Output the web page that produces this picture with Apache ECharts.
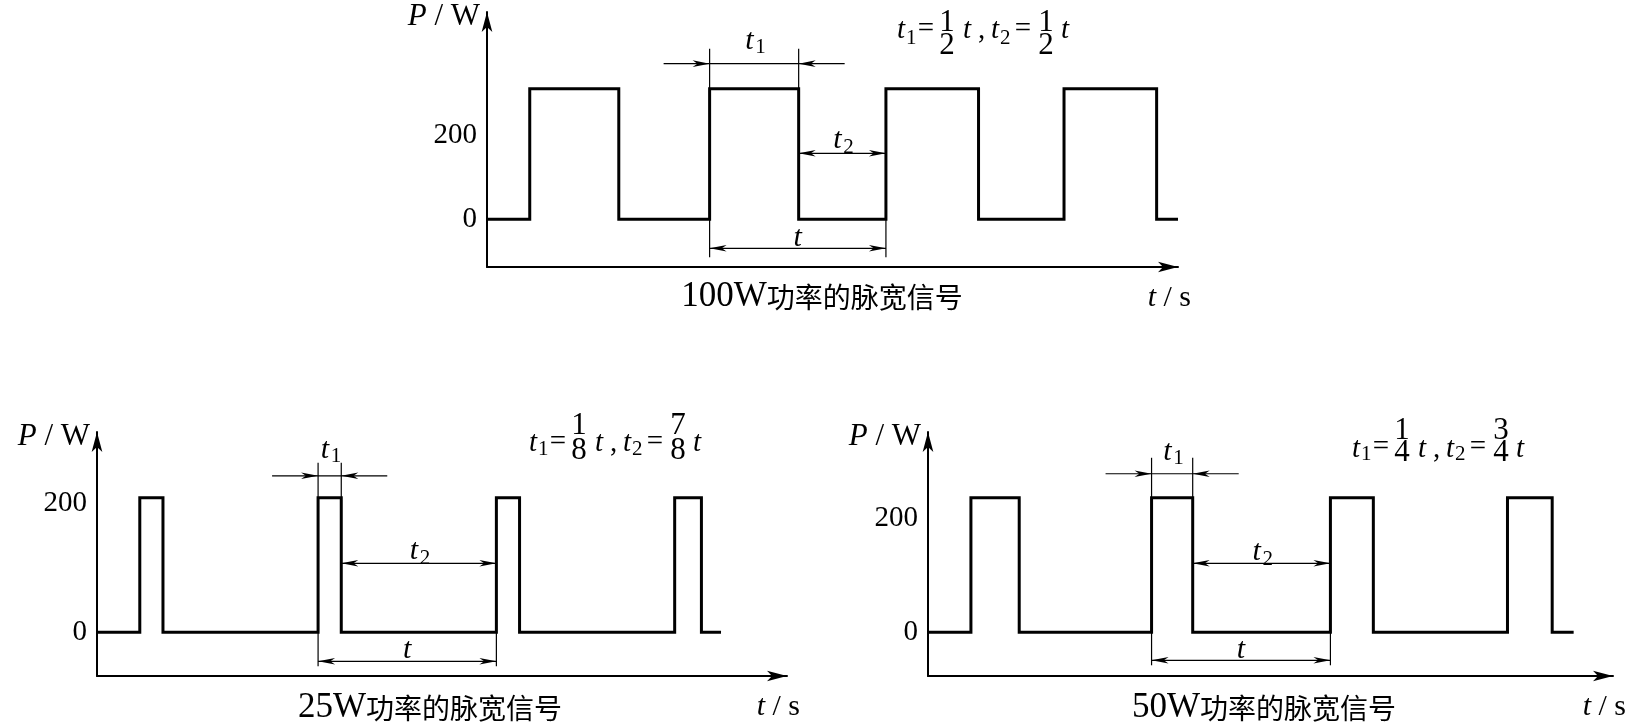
<!DOCTYPE html>
<html><head><meta charset="utf-8">
<script src="https://cdn.jsdelivr.net/npm/echarts@6/dist/echarts.min.js"></script>
<style>html,body{margin:0;padding:0;background:#fff}#c{width:1629px;height:726px}</style>
</head><body><div id="c"></div>
<script>
// ---------- data (time measured in periods t, power in W) ----------
const captionPower = ['100W', '25W', '50W'];
const captionSuffix = '功率的脉宽信号';
const yTickValues = [0, 200];

const rises100 = [0.24, 1.25, 2.24, 3.24];
const falls100 = [0.74, 1.75, 2.76, 3.76];
const high100 = 310;
const end100 = 3.88;

const rises25 = [0.24, 1.24, 2.24, 3.24];
const falls25 = [0.37, 1.37, 2.37, 3.39];
const high25 = 208;
const end25 = 3.50;

const rises50 = [0.24, 1.25, 2.25, 3.24];
const falls50 = [0.51, 1.48, 2.49, 3.49];
const high50 = 236;
const end50 = 3.61;

const frac100 = [['1', '2'], ['1', '2']];
const frac25 = [['1', '8'], ['7', '8']];
const frac50 = [['1', '4'], ['3', '4']];

// ---------- layout ----------
const panels = [
  {rises: rises100, falls: falls100, high: high100, end: end100, frac: frac100, cap: captionPower[0],
   grid: {left: 487, top: 12, width: 691, height: 255}, xMax: 3.88, yMin: -113.2, yMax: 491.8,
   dim: {t1Off: 25, extTop: 40, tOff: 29, extBot: 38, t2Off: 66, t1Lab: 23, t2Lab: 13, tLab: 10},
   formula: {x: 897, ym: 30.5, sub: 38.5, eq: 29, num: 23, den: 46},
   caption: {x: 822, y: 297}},
  {rises: rises25, falls: falls25, high: high25, end: end25, frac: frac25, cap: captionPower[1],
   grid: {left: 97, top: 432, width: 690, height: 244}, xMax: 3.87, yMin: -67.6, yMax: 309.8,
   dim: {t1Off: 22, extTop: 35, tOff: 29, extBot: 34, t2Off: 69, t1Lab: 26, t2Lab: 12, tLab: 11},
   formula: {x: 529, ym: 443.5, sub: 449, eq: 442.5, num: 426, den: 451},
   caption: {x: 430, y: 708}},
  {rises: rises50, falls: falls50, high: high50, end: end50, frac: frac50, cap: captionPower[2],
   grid: {left: 928, top: 432, width: 685, height: 244}, xMax: 3.83, yMin: -76.7, yMax: 351.4,
   dim: {t1Off: 24, extTop: 40, tOff: 28, extBot: 33, t2Off: 69, t1Lab: 22, t2Lab: 11, tLab: 10},
   formula: {x: 1352, ym: 449, sub: 454, eq: 447, num: 431, den: 453},
   caption: {x: 1264, y: 708}}
];

const SERIF = '"Liberation Serif", "Times New Roman", serif';
const CJK = '"Noto Sans CJK SC", sans-serif';

function buildSignal(p) {
  const pts = [[0, 0]];
  for (let i = 0; i < p.rises.length; i++) {
    pts.push([p.rises[i], p.high]);
    pts.push([p.falls[i], 0]);
  }
  pts.push([p.end, 0]);
  return pts;
}

function txt(x, y, text, font, align) {
  return {type: 'text', x: x, y: y, silent: true,
    style: {text: text, font: font, fill: '#000', align: align || 'left', verticalAlign: 'middle',
            textAlign: align || 'left', textVerticalAlign: 'middle'}};
}

function arrow(tip, y, dir) {
  const L = 17, W = 3.3;
  return {type: 'polygon', silent: true,
    shape: {points: [[tip, y], [tip - dir * L, y - W], [tip - dir * L * 0.72, y], [tip - dir * L, y + W]]},
    style: {fill: '#000', stroke: null}};
}
function ln(x1, y1, x2, y2) {
  return {type: 'line', silent: true, shape: {x1: x1, y1: y1, x2: x2, y2: y2},
    style: {stroke: '#000', lineWidth: 1.2}};
}

function makeAnnot(p) {
  const d = p.dim;
  return function (params, api) {
    const k = 1;
    const A = api.coord([p.rises[k], p.high]);
    const B = api.coord([p.falls[k], 0]);
    const C = api.coord([p.rises[k + 1], 0]);
    const xr = A[0], xf = B[0], xr2 = C[0], yH = A[1], yB = B[1];
    const it = 'italic 30px ' + SERIF, sb = '21px ' + SERIF;
    const y1 = yH - d.t1Off, y2 = yB - d.t2Off, y3 = yB + d.tOff;
    const c1 = (xr + xf) / 2, c2 = (xf + xr2) / 2, c3 = (xr + xr2) / 2;
    const ch = [
      ln(xr, yH - d.extTop, xr, yB + d.extBot),
      ln(xf, yH - d.extTop, xf, yH),
      ln(xr2, yB, xr2, yB + d.extBot),
      ln(xr - 46, y1, xf + 46, y1), arrow(xr, y1, 1), arrow(xf, y1, -1),
      ln(xf, y2, xr2, y2), arrow(xf, y2, -1), arrow(xr2, y2, 1),
      ln(xr, y3, xr2, y3), arrow(xr, y3, -1), arrow(xr2, y3, 1),
      txt(c1 - 9, y1 - d.t1Lab, 't', it), txt(c1 + 1, y1 - d.t1Lab + 7, '1', sb),
      txt(c2 - 9, y2 - d.t2Lab, 't', it), txt(c2 + 1, y2 - d.t2Lab + 7, '2', sb),
      txt(c3, y3 - d.tLab, 't', it, 'center')
    ];
    return {type: 'group', children: ch};
  };
}

function formulaEls(f, fr) {
  const it = 'italic 29px ' + SERIF, sb = '21px ' + SERIF, rm = '29px ' + SERIF, fd = '31px ' + SERIF;
  return [
    txt(f.x, f.ym, 't', it), txt(f.x + 9, f.sub, '1', sb), txt(f.x + 29, f.eq, '=', rm, 'center'),
    txt(f.x + 50, f.num, fr[0][0], fd, 'center'), txt(f.x + 50, f.den, fr[0][1], fd, 'center'),
    txt(f.x + 66, f.ym, 't', it), txt(f.x + 81, f.ym, ',', rm),
    txt(f.x + 94, f.ym, 't', it), txt(f.x + 103, f.sub, '2', sb), txt(f.x + 126, f.eq, '=', rm, 'center'),
    txt(f.x + 149, f.num, fr[1][0], fd, 'center'), txt(f.x + 149, f.den, fr[1][1], fd, 'center'),
    txt(f.x + 164, f.ym, 't', it)
  ];
}

function captionEl(p) {
  return {type: 'text', x: p.caption.x, y: p.caption.y, silent: true,
    style: {text: '{a|' + p.cap + '}{c|' + captionSuffix + '}', fill: '#000',
      align: 'center', verticalAlign: 'middle', textAlign: 'center', textVerticalAlign: 'middle',
      rich: {a: {font: '35px ' + SERIF, fill: '#000', verticalAlign: 'middle'},
             c: {font: '28px ' + CJK, fill: '#000', verticalAlign: 'middle'}}}};
}

const axisLineStyle = {color: '#000', width: 2};
let graphics = [];
panels.forEach(p => { graphics = graphics.concat(formulaEls(p.formula, p.frac)); graphics.push(captionEl(p)); });

const option = {
  animation: false,
  backgroundColor: '#fff',
  grid: panels.map(p => Object.assign({containLabel: false}, p.grid)),
  xAxis: panels.map((p, i) => ({
    type: 'value', gridIndex: i, min: 0, max: p.xMax,
    axisLine: {show: true, onZero: false, symbol: ['none', 'arrow'], symbolSize: [8, 20], lineStyle: axisLineStyle},
    axisTick: {show: false}, axisLabel: {show: false}, splitLine: {show: false},
    name: '{i|t} / s', nameLocation: 'end', nameGap: 13,
    nameTextStyle: {align: 'right', verticalAlign: 'top', padding: [16, 0, 0, 0],
      fontFamily: SERIF, fontSize: 30, color: '#000',
      rich: {i: {fontFamily: SERIF, fontStyle: 'italic', fontSize: 30, color: '#000'}}}
  })),
  yAxis: panels.map((p, i) => ({
    type: 'value', gridIndex: i, min: p.yMin, max: p.yMax,
    axisLine: {show: true, onZero: false, symbol: ['none', 'arrow'], symbolSize: [8, 20], lineStyle: axisLineStyle},
    axisTick: {show: false}, splitLine: {show: false},
    axisLabel: {customValues: yTickValues, margin: 10, fontFamily: SERIF, fontSize: 29, color: '#000'},
    name: '{i|P} / W', nameLocation: 'end', nameGap: -5,
    nameTextStyle: {align: 'right', verticalAlign: 'middle', padding: [0, 7, 0, 0],
      fontFamily: SERIF, fontSize: 31, color: '#000',
      rich: {i: {fontFamily: SERIF, fontStyle: 'italic', fontSize: 31, color: '#000'}}}
  })),
  series: panels.map((p, i) => ({
    type: 'line', xAxisIndex: i, yAxisIndex: i, step: 'end', symbol: 'none', clip: false,
    data: buildSignal(p), silent: true,
    lineStyle: {color: '#000', width: 3, join: 'miter', cap: 'butt'}
  })).concat(panels.map((p, i) => ({
    type: 'custom', xAxisIndex: i, yAxisIndex: i, data: [[0, 0]], silent: true, clip: false,
    renderItem: makeAnnot(p)
  }))),
  graphic: graphics
};

const chart = echarts.init(document.getElementById('c'));
chart.setOption(option);
</script>
</body></html>
